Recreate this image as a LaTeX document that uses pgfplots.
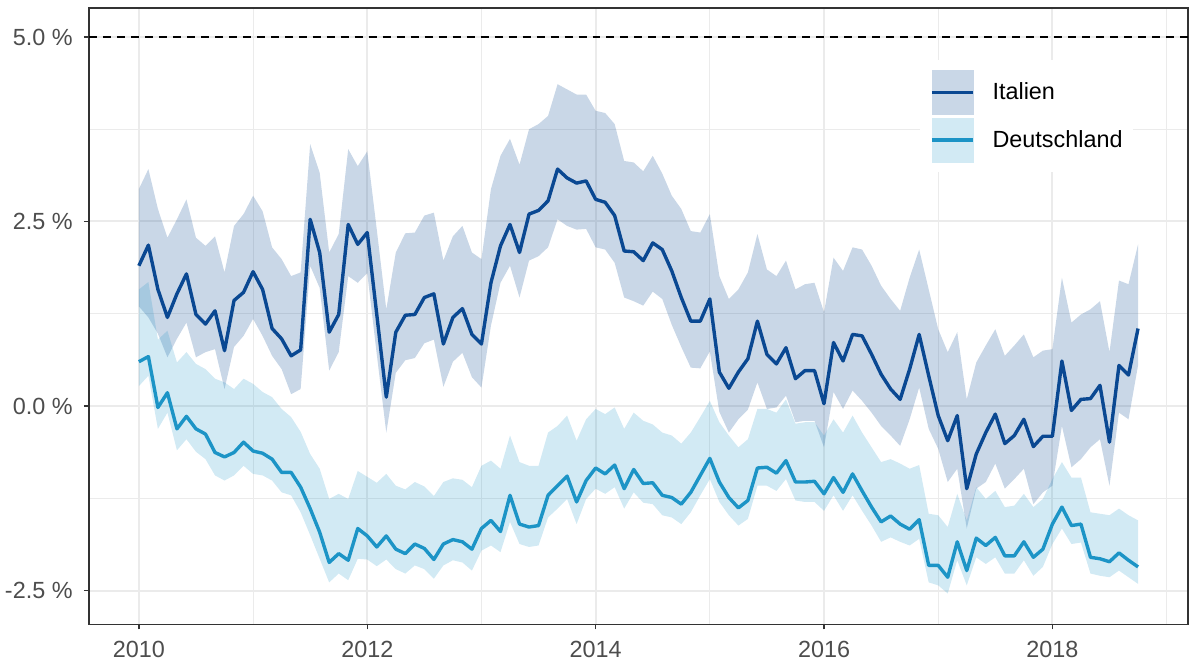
\documentclass[border=0pt]{standalone}
\usepackage{fontspec}
\setmainfont{Liberation Sans}
\usepackage{pgfplots}
\usepackage{pgfplotstable}
\pgfplotsset{compat=1.18}
\usepgfplotslibrary{fillbetween}

\definecolor{itacol}{RGB}{10,72,146}
\definecolor{decol}{RGB}{28,148,198}
\definecolor{panelgray}{RGB}{51,51,51}
\definecolor{labgray}{RGB}{77,77,77}
\definecolor{gridgray}{RGB}{235,235,235}

% k = months since Jan 2010; I/D = estimate, U/L = upper/lower bound
\pgfplotstableread{
k I IU IL D DU DL
0 1.90 2.94 1.35 0.60 1.58 0.27
1 2.18 3.21 1.20 0.67 1.68 0.41
2 1.58 2.67 0.98 -0.02 0.90 -0.31
3 1.20 2.28 0.66 0.18 1.02 -0.09
4 1.52 2.53 0.91 -0.31 0.59 -0.60
5 1.79 2.80 1.13 -0.14 0.73 -0.45
6 1.24 2.28 0.66 -0.31 0.57 -0.62
7 1.11 2.17 0.73 -0.38 0.50 -0.72
8 1.29 2.30 0.77 -0.63 0.37 -0.94
9 0.75 1.81 0.23 -0.69 0.32 -1.01
10 1.43 2.44 0.80 -0.63 0.23 -0.94
11 1.54 2.60 0.95 -0.49 0.37 -0.81
12 1.82 2.85 1.18 -0.61 0.30 -0.92
13 1.58 2.64 0.95 -0.64 0.19 -0.94
14 1.05 2.15 0.68 -0.72 0.12 -1.01
15 0.91 1.99 0.50 -0.90 -0.04 -1.17
16 0.68 1.76 0.16 -0.90 -0.15 -1.21
17 0.76 1.81 0.23 -1.10 -0.35 -1.44
18 2.53 3.55 1.90 -1.39 -0.65 -1.75
19 2.08 3.16 1.60 -1.71 -0.85 -2.07
20 1.00 2.08 0.48 -2.12 -1.26 -2.39
21 1.24 2.33 0.73 -2.00 -1.19 -2.27
22 2.46 3.48 1.76 -2.09 -1.26 -2.36
23 2.19 3.25 1.67 -1.66 -0.88 -2.07
24 2.35 3.45 1.80 -1.76 -0.96 -2.08
25 1.24 2.39 0.70 -1.91 -1.04 -2.17
26 0.12 1.31 -0.36 -1.76 -0.92 -2.08
27 1.00 2.08 0.45 -1.94 -1.08 -2.21
28 1.23 2.34 0.62 -2.00 -1.13 -2.27
29 1.24 2.35 0.65 -1.87 -1.03 -2.16
30 1.47 2.58 0.85 -1.93 -1.09 -2.21
31 1.52 2.62 0.90 -2.08 -1.22 -2.34
32 0.84 1.97 0.26 -1.87 -1.03 -2.16
33 1.20 2.30 0.60 -1.81 -0.98 -2.09
34 1.32 2.44 0.72 -1.84 -1.00 -2.12
35 0.97 2.08 0.39 -1.94 -1.10 -2.23
36 0.84 1.99 0.25 -1.66 -0.81 -1.96
37 1.67 2.94 1.09 -1.55 -0.74 -1.89
38 2.17 3.39 1.67 -1.70 -0.85 -1.98
39 2.46 3.62 1.90 -1.21 -0.40 -1.57
40 2.08 3.27 1.47 -1.60 -0.76 -1.87
41 2.60 3.75 1.97 -1.64 -0.81 -1.91
42 2.65 3.82 2.03 -1.62 -0.81 -1.89
43 2.78 3.93 2.15 -1.21 -0.36 -1.51
44 3.21 4.36 2.53 -1.08 -0.27 -1.39
45 3.09 4.29 2.44 -0.95 -0.13 -1.26
46 3.02 4.22 2.39 -1.30 -0.47 -1.60
47 3.05 4.22 2.40 -1.01 -0.18 -1.26
48 2.80 4.00 2.15 -0.84 -0.04 -1.12
49 2.76 3.97 2.12 -0.92 -0.11 -1.19
50 2.58 3.82 1.94 -0.80 -0.02 -1.10
51 2.10 3.32 1.47 -1.12 -0.31 -1.39
52 2.09 3.30 1.42 -0.86 -0.09 -1.17
53 1.97 3.18 1.36 -1.05 -0.20 -1.31
54 2.21 3.39 1.55 -1.04 -0.25 -1.33
55 2.12 3.15 1.45 -1.21 -0.36 -1.48
56 1.83 2.85 1.10 -1.24 -0.40 -1.51
57 1.47 2.67 0.80 -1.33 -0.51 -1.60
58 1.15 2.37 0.52 -1.17 -0.36 -1.44
59 1.15 2.35 0.51 -0.94 -0.15 -1.21
60 1.45 2.60 0.74 -0.71 0.07 -0.99
61 0.46 1.76 -0.08 -1.03 -0.22 -1.30
62 0.24 1.45 -0.36 -1.24 -0.40 -1.48
63 0.46 1.58 -0.18 -1.38 -0.56 -1.62
64 0.64 1.81 -0.05 -1.28 -0.45 -1.53
65 1.15 2.33 0.32 -0.84 -0.04 -1.08
66 0.70 1.85 -0.04 -0.83 -0.04 -1.08
67 0.57 1.76 -0.02 -0.91 -0.09 -1.15
68 0.79 1.97 0.14 -0.74 0.09 -0.99
69 0.37 1.58 -0.22 -1.03 -0.24 -1.28
70 0.48 1.65 -0.20 -1.03 -0.22 -1.30
71 0.48 1.67 -0.20 -1.02 -0.22 -1.30
72 0.03 1.27 -0.56 -1.19 -0.40 -1.42
73 0.86 2.01 0.19 -0.97 -0.18 -1.21
74 0.61 1.83 -0.04 -1.17 -0.36 -1.42
75 0.97 2.15 0.21 -0.92 -0.13 -1.21
76 0.95 2.12 0.07 -1.15 -0.36 -1.42
77 0.70 1.90 -0.09 -1.37 -0.56 -1.62
78 0.43 1.63 -0.27 -1.57 -0.76 -1.84
79 0.23 1.45 -0.40 -1.49 -0.72 -1.78
80 0.09 1.29 -0.54 -1.60 -0.78 -1.84
81 0.50 1.74 -0.18 -1.67 -0.85 -1.89
82 0.97 2.12 0.25 -1.54 -0.80 -1.80
83 0.41 1.58 -0.31 -2.16 -1.46 -2.39
84 -0.13 1.04 -0.58 -2.16 -1.48 -2.43
85 -0.47 0.73 -1.03 -2.32 -1.64 -2.54
86 -0.13 1.00 -0.85 -1.84 -1.19 -2.09
87 -1.12 0.09 -1.66 -2.23 -1.55 -2.43
88 -0.65 0.59 -1.12 -1.79 -1.10 -2.05
89 -0.36 0.82 -1.03 -1.89 -1.26 -2.14
90 -0.11 1.04 -0.78 -1.78 -1.15 -2.05
91 -0.51 0.68 -1.12 -2.03 -1.37 -2.27
92 -0.40 0.82 -0.99 -2.03 -1.35 -2.27
93 -0.18 0.97 -0.85 -1.84 -1.19 -2.09
94 -0.55 0.66 -1.33 -2.05 -1.37 -2.30
95 -0.41 0.75 -1.17 -1.94 -1.26 -2.18
96 -0.41 0.77 -1.08 -1.60 -0.99 -1.87
97 0.61 1.74 -0.27 -1.37 -0.76 -1.66
98 -0.06 1.13 -0.83 -1.62 -0.97 -1.87
99 0.09 1.24 -0.72 -1.60 -0.97 -1.85
100 0.10 1.31 -0.56 -2.05 -1.44 -2.27
101 0.28 1.42 -0.45 -2.07 -1.46 -2.30
102 -0.49 0.73 -1.08 -2.11 -1.48 -2.32
103 0.55 1.70 -0.09 -1.99 -1.39 -2.23
104 0.42 1.65 -0.18 -2.09 -1.48 -2.32
105 1.05 2.19 0.55 -2.18 -1.55 -2.41
}\rates

\begin{document}
\begin{tikzpicture}
\begin{axis}[
  scale only axis, width=550pt, height=308.5pt,
  xmin=2009.5625, xmax=2019.1875, ymin=-2.96, ymax=5.393,
  xtick={2010,2012,2014,2016,2018},
  xticklabels={2010,2012,2014,2016,2018},
  ytick={-2.5,0,2.5,5},
  yticklabels={-2.5 \%,0.0 \%,2.5 \%,5.0 \%},
  minor xtick={2011,2013,2015,2017,2019},
  minor ytick={-1.25,1.25,3.75},
  grid=both,
  major grid style={draw=gridgray, line width=1pt},
  minor grid style={draw=gridgray, line width=0.5pt},
  axis line style={draw=panelgray, line width=0.7pt},
  tick align=outside, tick pos=left,
  major tick length=2.5pt, minor tick length=0pt,
  tick style={draw=panelgray, line width=0.7pt},
  tick label style={font=\fontsize{11.7}{14}\selectfont, text=labgray, inner sep=0pt},
  yticklabel style={anchor=east, xshift=-5.5pt},
  xticklabel style={anchor=north, yshift=-5.5pt},
  legend style={at={(0.7564,0.9157)}, anchor=north west, draw=none, fill=white,
    inner sep=5pt, outer sep=0pt, row sep=1.5pt, column sep=9pt,
    font=\fontsize{11.7}{14}\selectfont, nodes={inner sep=0pt}},
  legend cell align=left,
]
\addplot[name path=iu, draw=none, forget plot] table[x expr=2010+\thisrow{k}/12, y=IU]{\rates};
\addplot[name path=il, draw=none, forget plot] table[x expr=2010+\thisrow{k}/12, y=IL]{\rates};
\addplot[name path=du, draw=none, forget plot] table[x expr=2010+\thisrow{k}/12, y=DU]{\rates};
\addplot[name path=dl, draw=none, forget plot] table[x expr=2010+\thisrow{k}/12, y=DL]{\rates};
\addplot[fill=itacol, fill opacity=0.22, draw=none, forget plot] fill between[of=iu and il];
\addplot[fill=decol, fill opacity=0.2, draw=none, forget plot] fill between[of=du and dl];

\addplot[itacol, line width=1.7pt, line join=round, forget plot] table[x expr=2010+\thisrow{k}/12, y=I]{\rates};
\addplot[decol, line width=1.7pt, line join=round, forget plot] table[x expr=2010+\thisrow{k}/12, y=D]{\rates};

% 5 % reference line
\addplot[black, line width=0.8pt, dash pattern=on 4pt off 3pt, forget plot] coordinates {(2009.5625,5) (2019.1875,5)};

\addlegendimage{legend image code/.code={
  \fill[itacol!22!white] (0pt,-11pt) rectangle (20.5pt,11pt);
  \draw[draw=itacol, line width=1.7pt] (0pt,0pt) -- (20.5pt,0pt);}}
\addlegendentry{Italien}
\addlegendimage{legend image code/.code={
  \fill[decol!20!white] (0pt,-11pt) rectangle (20.5pt,11pt);
  \draw[draw=decol, line width=1.7pt] (0pt,0pt) -- (20.5pt,0pt);}}
\addlegendentry{Deutschland}
\end{axis}
\path (current axis.south west) ++(-44.5pt,-18pt);
\path (current axis.north east) ++(0.5pt,4pt);
\end{tikzpicture}
\end{document}
